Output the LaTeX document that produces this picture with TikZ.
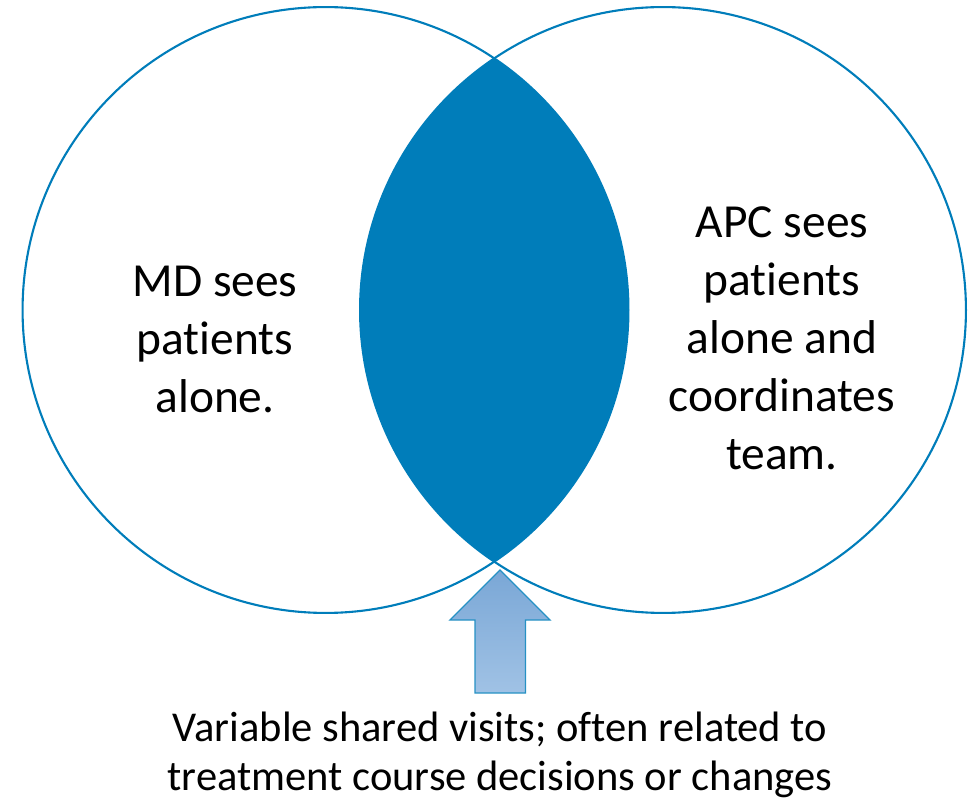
\documentclass[tikz,border=0pt]{standalone}
\usepackage{fontspec}
\setmainfont{Carlito}[Ligatures=NoCommon]
\definecolor{vennblue}{RGB}{0,125,186}
\definecolor{arrowtop}{RGB}{122,167,214}
\definecolor{arrowbot}{RGB}{160,194,229}
\begin{document}
\begin{tikzpicture}[x=0.02cm, y=-0.02cm,
    circletext/.style={align=center, font=\fontsize{27}{33}\selectfont},
    notetext/.style={align=center, font=\fontsize{24.2}{27.6}\selectfont}]
    \useasboundingbox (0, 0) rectangle (974, 800);
    % the two circles and the overlap
    \coordinate (md) at (325.5, 310);
    \coordinate (apc) at (663, 310);
    \begin{scope}
      \clip (md) circle[radius=6.06cm];
      \fill[vennblue] (apc) circle[radius=6.06cm];
    \end{scope}
    \draw[vennblue, line width=1.2pt] (md) circle[radius=6.06cm];
    \draw[vennblue, line width=1.2pt] (apc) circle[radius=6.06cm];
    \node[circletext] (mdtext) at (215, 339) {MD sees\\patients\\alone.};
    \node[circletext] (apctext) at (782, 338) {APC sees\\patients\\alone and\\coordinates\\team.};
    % block arrow pointing to the overlap
    \draw[vennblue!85, line width=0.8pt, top color=arrowtop, bottom color=arrowbot]
      (500, 570) -- (550, 620) -- (525.5, 620) -- (525.5, 693)
      -- (475, 693) -- (475, 620) -- (450, 620) -- cycle;
    \node[notetext] (shared) at (500, 755) {Variable shared visits; often related to\\treatment course decisions or changes};
\end{tikzpicture}
\end{document}
